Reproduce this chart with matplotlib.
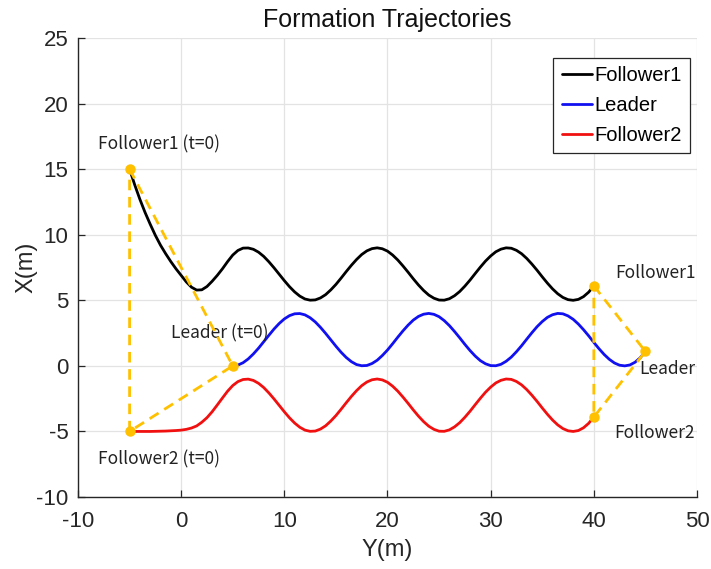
import numpy as np
import matplotlib
matplotlib.use("Agg")
import matplotlib.pyplot as plt

plt.rcParams["axes.unicode_minus"] = False

# Sampling grid along Y (m)
leader_y = np.arange(5.0, 45.01, 0.5)
follower_y = np.arange(-5.0, 40.01, 0.5)

# Leader X (m)
leader_x = [
    0.00, 0.06, 0.24, 0.53, 0.91, 1.35, 1.84, 2.33, 2.81, 3.23,
    3.58, 3.83, 3.97, 3.99, 3.89, 3.67, 3.35, 2.94, 2.48, 1.99,
    1.50, 1.04, 0.64, 0.32, 0.10, 0.01, 0.03, 0.18, 0.43, 0.79,
    1.21, 1.69, 2.19, 2.67, 3.11, 3.49, 3.77, 3.94, 4.00, 3.93,
    3.75, 3.45, 3.07, 2.62, 2.14, 1.64, 1.17, 0.75, 0.40, 0.16,
    0.02, 0.01, 0.12, 0.35, 0.67, 1.08, 1.54, 2.04, 2.53, 2.99,
    3.38, 3.70, 3.90, 4.00, 3.97, 3.81, 3.55, 3.19, 2.76, 2.29,
    1.79, 1.31, 0.87, 0.50, 0.22, 0.05, 0.00, 0.07, 0.28, 0.62, 1.10,
]

# Follower1 X (m)
follower1_x = [
    15.00, 13.80, 12.70, 11.70, 10.80, 9.95, 9.20, 8.55, 7.95, 7.40,
    6.90, 6.40, 6.00, 5.78, 5.80, 6.05, 6.45, 6.90, 7.40, 7.95,
    8.45, 8.80, 8.98,
    8.99, 8.89, 8.67, 8.35, 7.94, 7.48, 6.99, 6.50, 6.04, 5.64,
    5.32, 5.10, 5.01, 5.03, 5.18, 5.43, 5.79, 6.21, 6.69, 7.19,
    7.67, 8.11, 8.49, 8.77, 8.94, 9.00, 8.93, 8.75, 8.45, 8.07,
    7.62, 7.14, 6.64, 6.17, 5.75, 5.40, 5.16, 5.02, 5.01, 5.12,
    5.35, 5.67, 6.08, 6.54, 7.04, 7.53, 7.99, 8.38, 8.70, 8.90,
    9.00, 8.97, 8.81, 8.55, 8.19, 7.76, 7.29, 6.79, 6.31, 5.87,
    5.50, 5.22, 5.05, 5.00, 5.07, 5.28, 5.62, 6.10,
]

# Follower2 X (m)
follower2_x = [
    -5.00, -5.00, -5.00, -5.00, -5.00, -4.99, -4.98, -4.97, -4.95, -4.93,
    -4.90, -4.84, -4.74, -4.58, -4.30, -3.95, -3.50, -2.98, -2.45, -1.93,
    -1.50, -1.20, -1.04,
    -1.01, -1.11, -1.33, -1.65, -2.06, -2.52, -3.01, -3.50, -3.96, -4.36,
    -4.68, -4.90, -4.99, -4.97, -4.82, -4.57, -4.21, -3.79, -3.31, -2.81,
    -2.33, -1.89, -1.51, -1.23, -1.06, -1.00, -1.07, -1.25, -1.55, -1.93,
    -2.38, -2.86, -3.36, -3.83, -4.25, -4.60, -4.84, -4.98, -4.99, -4.88,
    -4.65, -4.33, -3.92, -3.46, -2.96, -2.47, -2.01, -1.62, -1.30, -1.10,
    -1.00, -1.03, -1.19, -1.45, -1.81, -2.24, -2.71, -3.21, -3.69, -4.13,
    -4.50, -4.78, -4.95, -5.00, -4.93, -4.72, -4.38, -3.90,
]

series_labels = ["Follower1", "Leader", "Follower2"]
series_colors = ["#000000", "#1010f0", "#f01010"]

x_ticks = [-10, 0, 10, 20, 30, 40, 50]
y_ticks = [-10, -5, 0, 5, 10, 15, 20, 25]

FORM = "#FFC000"
SANS = ["Liberation Sans", "DejaVu Sans"]
CJK = ["Noto Sans CJK SC", "DejaVu Sans"]
INK = "#262626"

fig = plt.figure(figsize=(7.11, 5.69), dpi=100)
ax = fig.add_axes([0.1097, 0.1265, 0.8706, 0.8067])

curves = [
    (follower_y, follower1_x),
    (leader_y, leader_x),
    (follower_y, follower2_x),
]
for (yy, xx), lab, col in zip(curves, series_labels, series_colors):
    ax.plot(yy, xx, color=col, lw=2.0, label=lab, solid_capstyle="round", zorder=3)

# Formation triangles at start and end
def triangle(idx):
    f1 = (follower_y[idx], follower1_x[idx])
    ld = (leader_y[idx], leader_x[idx])
    f2 = (follower_y[idx], follower2_x[idx])
    return f1, ld, f2

for idx in (0, -1):
    f1, ld, f2 = triangle(idx)
    pts = [f1, ld, f2, f1]
    ax.plot([p[0] for p in pts], [p[1] for p in pts], color=FORM, lw=2.0,
            ls=(0, (3.8, 2.4)), zorder=4)
    ax.plot([f1[0], ld[0], f2[0]], [f1[1], ld[1], f2[1]], "o", color=FORM,
            ms=6.5, zorder=5)

ann = dict(fontsize=12.5, family=CJK, color="#222222", va="center", ha="left")
ax.text(-8.1, 16.9, "Follower1 (t=0)", **ann)
ax.text(-1.0, 2.5, "Leader (t=0)", **ann)
ax.text(-8.1, -7.1, "Follower2 (t=0)", **ann)
ax.text(42.1, 7.1, "Follower1", **ann)
ax.text(44.4, -0.25, "Leader", **ann)
ax.text(42.0, -5.1, "Follower2", **ann)

ax.set_xlim(-10, 50)
ax.set_ylim(-10, 25)
ax.set_xticks(x_ticks)
ax.set_yticks(y_ticks)
ax.grid(True, color="#e3e3e3", lw=0.9, zorder=0)
ax.set_axisbelow(True)
for s in ("top", "right"):
    ax.spines[s].set_visible(False)
for s in ("left", "bottom"):
    ax.spines[s].set_color(INK)
    ax.spines[s].set_linewidth(1.0)
ax.tick_params(direction="in", length=5, width=0.9, color=INK,
               labelsize=16, labelcolor=INK)
ax.tick_params(axis="x", pad=10)
ax.tick_params(axis="y", pad=7)
for lbl in ax.get_xticklabels() + ax.get_yticklabels():
    lbl.set_family(SANS)

ax.set_xlabel("Y(m)", fontsize=17, family=SANS, color=INK)
ax.set_ylabel("X(m)", fontsize=17, family=SANS, color=INK)
ax.xaxis.set_label_coords(0.5, -0.092)
ax.yaxis.set_label_coords(-0.066, 0.5)
ax.set_title("Formation Trajectories", fontsize=18, family=SANS,
             color="#111111", pad=8)

leg = ax.legend(loc="upper right", bbox_to_anchor=(0.989, 0.956),
                borderaxespad=0, fancybox=False, framealpha=1,
                edgecolor=INK, prop={"family": SANS, "size": 14.5},
                handlelength=1.5, handletextpad=0.15, labelspacing=0.55,
                borderpad=0.4)
leg.get_frame().set_linewidth(0.9)

fig.savefig("out.png", dpi=100)
